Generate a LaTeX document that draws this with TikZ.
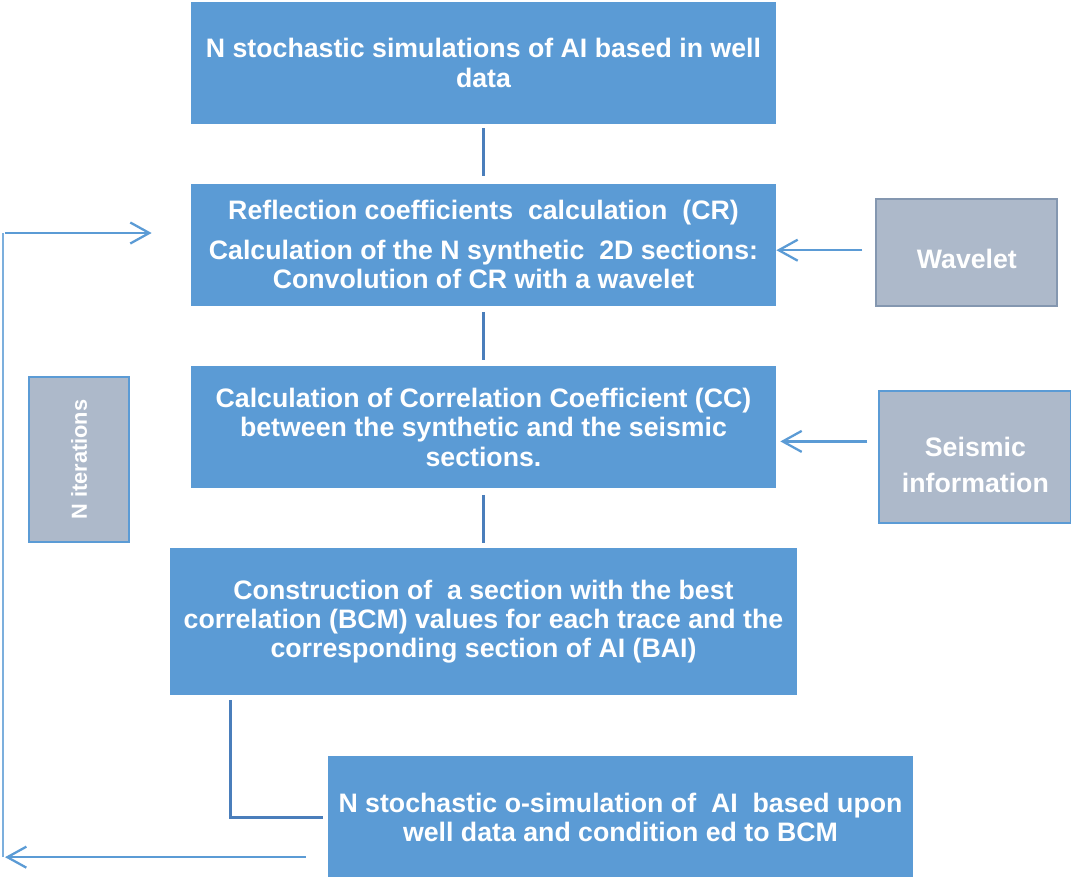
\documentclass[tikz,border=0pt]{standalone}
\usepackage{fontspec}
\setmainfont{Liberation Sans}
\usetikzlibrary{positioning,arrows.meta}
\definecolor{stageblue}{HTML}{5B9BD5}
\definecolor{inputgray}{HTML}{ADB9CA}
\definecolor{grayline}{HTML}{8497B0}
\definecolor{linkblue}{HTML}{4A7EBB}

\begin{document}
\begin{tikzpicture}[
  font=\fontsize{15.2}{16.6}\selectfont\bfseries, >={Straight Barb[length=3.8mm,width=4.2mm]},
  stage/.style={fill=stageblue,text=white,align=center,minimum width=11.7cm,minimum height=2.44cm,inner sep=0pt},
  input/.style={fill=inputgray,draw=stageblue,line width=1.2pt,text=white,align=center,inner sep=0pt},
  link/.style={draw=linkblue,line width=1.4pt},
  flow/.style={draw=stageblue,line width=1.3pt,->}
]
\useasboundingbox (0,0) rectangle (21.42,-17.52);
\node[stage] (sim) at (9.67,-1.26) {N stochastic simulations of AI based in well\\data};
\node[stage,below=1.18cm of sim] (refl) {Reflection coefficients\ \ calculation\ \ (CR)\\[6pt]Calculation of the N synthetic\ \ 2D sections:\\Convolution of CR with a wavelet};
\node[stage,below=1.2cm of refl] (corr) {Calculation of Correlation Coefficient (CC)\\between the synthetic and the seismic\\sections.};
\node[stage,below=1.18cm of corr,minimum width=12.54cm,minimum height=2.94cm] (best) {Construction of\ \ a section with the best\\correlation (BCM) values for each trace and the\\corresponding section of AI (BAI)};
\node[stage,below=1.2cm of best,xshift=2.74cm,minimum height=2.46cm] (cosim) {N stochastic o-simulation of\ \ AI\ \ based upon\\well data and condition ed to BCM};

% inputs on the side
\node[input,draw=grayline,right=1.98cm of refl,yshift=-0.16cm,minimum width=3.62cm,minimum height=2.14cm,text height=0.63cm] (wav) {Wavelet};
\node[input,right=2.04cm of corr,yshift=-0.6cm,minimum width=3.84cm,minimum height=2.64cm,text height=1.39cm] (seis) {Seismic\\[3.4pt]information};
\node[input,rotate=90,minimum width=3.3cm,minimum height=2cm,font=\fontsize{12.4}{14}\selectfont\bfseries] (iter) at (1.58,-9.19) {N iterations};

\draw[link,shorten <=0.08cm,shorten >=0.14cm] (sim) -- (refl);
\draw[link,shorten <=0.12cm,shorten >=0.12cm] (refl) -- (corr);
\draw[link,shorten <=0.12cm,shorten >=0.1cm] (corr) -- (best);
\draw[link] ([xshift=1.22cm,yshift=-0.1cm]best.south west) |- ([xshift=-0.1cm]cosim.west);

\draw[flow,shorten <=0.26cm] ([yshift=0.05cm]wav.west) -- ([yshift=0.05cm]wav.west -| refl.east);
\draw[flow,shorten <=0.22cm,shorten >=0.08cm] ([yshift=0.32cm]seis.west) -- ([yshift=0.32cm]seis.west -| corr.east);

% loop back
\coordinate (loopbot) at ([xshift=-0.44cm,yshift=0.44cm]cosim.south west);
\coordinate (looptop) at (0.1,-4.66);
\draw[flow] (loopbot) -- (loopbot -| looptop);
\draw[stageblue!80,line width=0.8pt] ([xshift=-0.04cm]loopbot -| looptop) -- ([xshift=-0.04cm]looptop);
\draw[flow] (looptop) -- ([xshift=-0.78cm]looptop -| refl.west);
\end{tikzpicture}
\end{document}
